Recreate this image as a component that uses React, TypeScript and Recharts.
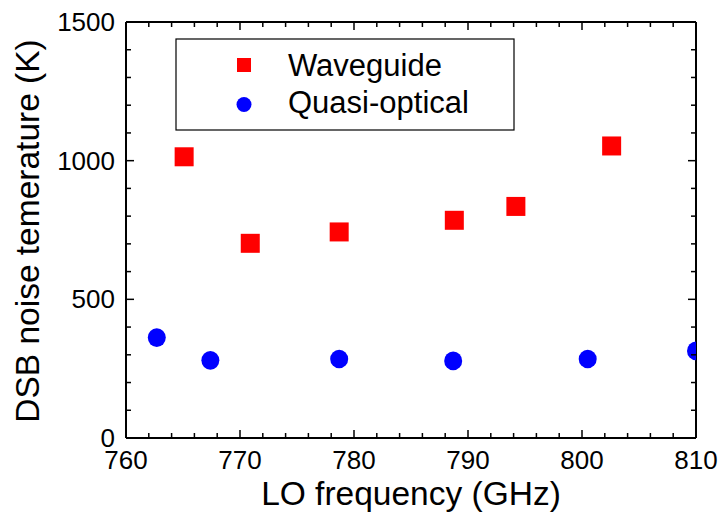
import { ScatterChart, Scatter, XAxis, YAxis } from "recharts";

// LO frequency (GHz) and DSB noise temperature (K)
const freqWG = [765.1, 770.9, 778.7, 788.8, 794.2, 802.6];
const tempWG = [1014, 702, 743, 785, 835, 1053];
const freqQO = [762.7, 767.4, 778.7, 788.7, 800.5, 810];
const tempQO = [362, 280, 285, 278, 285, 314];

const xTicks = [760, 762, 764, 766, 768, 770, 772, 774, 776, 778, 780, 782, 784, 786, 788, 790, 792, 794, 796, 798, 800, 802, 804, 806, 808, 810];
const yTicks = [0, 100, 200, 300, 400, 500, 600, 700, 800, 900, 1000, 1100, 1200, 1300, 1400, 1500];

const waveguide = freqWG.map((f, i) => ({ f, t: tempWG[i] }));
const quasi = freqQO.map((f, i) => ({ f, t: tempQO[i] }));

const W = 718;
const H = 519;
const LEFT = 126;
const RIGHT = 696;
const TOP = 22;
const BOTTOM = 438;
const FONT = '"Liberation Sans", Arial, sans-serif';

function XTick(props: any) {
  const { x, payload, side } = props;
  const v = payload.value;
  const major = v % 10 === 0;
  const len = major ? 8 : 5;
  if (side === "top") {
    return <line x1={x} x2={x} y1={TOP} y2={TOP + len} stroke="#000" strokeWidth={1.5} />;
  }
  return (
    <g>
      <line x1={x} x2={x} y1={BOTTOM} y2={BOTTOM - len} stroke="#000" strokeWidth={1.5} />
      {major && (
        <text x={x} y={BOTTOM + 31} textAnchor="middle" fontSize={26} fontFamily={FONT} fill="#000">
          {v}
        </text>
      )}
    </g>
  );
}

function YTick(props: any) {
  const { y, payload, side } = props;
  const v = payload.value;
  const major = v % 500 === 0;
  const len = major ? 8 : 5;
  if (side === "right") {
    return <line x1={RIGHT} x2={RIGHT - len} y1={y} y2={y} stroke="#000" strokeWidth={1.5} />;
  }
  return (
    <g>
      <line x1={LEFT} x2={LEFT + len} y1={y} y2={y} stroke="#000" strokeWidth={1.5} />
      {major && (
        <text x={115} y={y + 9} textAnchor="end" fontSize={26} fontFamily={FONT} fill="#000">
          {v}
        </text>
      )}
    </g>
  );
}

function Square(props: any) {
  const { cx, cy } = props;
  return <rect x={cx - 9.5} y={cy - 9.5} width={19} height={19} fill="#ff0000" />;
}

function Dot(props: any) {
  const { cx, cy } = props;
  return <ellipse cx={cx} cy={cy} rx={9} ry={9.3} fill="#0000ff" />;
}

function LegendBox() {
  return (
    <svg
      width={340}
      height={93}
      style={{ position: "absolute", left: 175, top: 38 }}
    >
      <rect x={1} y={1} width={338} height={91} fill="#fff" stroke="#000" strokeWidth={1.2} />
      <rect x={62} y={20} width={14} height={14} fill="#ff0000" />
      <text x={113} y={38} fontSize={31} fontFamily={FONT} fill="#000">
        Waveguide
      </text>
      <circle cx={69} cy={66.5} r={7.5} fill="#0000ff" />
      <text x={113} y={75} fontSize={31} fontFamily={FONT} fill="#000">
        Quasi-optical
      </text>
    </svg>
  );
}

export default function App() {
  return (
    <div style={{ position: "absolute", left: 0, top: 0, width: W, height: H, background: "#fff" }}>
      <ScatterChart width={W} height={H} margin={{ top: 0, right: 0, bottom: 0, left: 0 }}>
        <XAxis
          xAxisId="bottom"
          type="number"
          dataKey="f"
          orientation="bottom"
          domain={[760, 810]}
          ticks={xTicks}
          allowDataOverflow
          height={81}
          interval={0}
          axisLine={{ stroke: "#000", strokeWidth: 2 }}
          tickLine={false}
          tick={<XTick side="bottom" />}
          label={{
            content: () => (
              <text x={(LEFT + RIGHT) / 2} y={505} textAnchor="middle" fontSize={33.5} fontFamily={FONT} fill="#000">
                LO frequency (GHz)
              </text>
            ),
          }}
        />
        <XAxis
          xAxisId="top"
          type="number"
          dataKey="f"
          orientation="top"
          domain={[760, 810]}
          ticks={xTicks}
          allowDataOverflow
          height={22}
          interval={0}
          axisLine={{ stroke: "#000", strokeWidth: 2 }}
          tickLine={false}
          tick={<XTick side="top" />}
        />
        <YAxis
          yAxisId="left"
          type="number"
          dataKey="t"
          orientation="left"
          domain={[0, 1500]}
          ticks={yTicks}
          allowDataOverflow
          width={126}
          interval={0}
          axisLine={{ stroke: "#000", strokeWidth: 2 }}
          tickLine={false}
          tick={<YTick side="left" />}
          label={{
            content: () => (
              <text
                x={39}
                y={231}
                transform="rotate(-90 39 231)"
                textAnchor="middle"
                fontSize={33.5}
                fontFamily={FONT}
                fill="#000"
              >
                DSB noise temerature (K)
              </text>
            ),
          }}
        />
        <YAxis
          yAxisId="right"
          type="number"
          dataKey="t"
          orientation="right"
          domain={[0, 1500]}
          ticks={yTicks}
          allowDataOverflow
          width={22}
          interval={0}
          axisLine={{ stroke: "#000", strokeWidth: 2 }}
          tickLine={false}
          tick={<YTick side="right" />}
        />
        <Scatter
          name="Waveguide"
          data={waveguide}
          xAxisId="bottom"
          yAxisId="left"
          shape={<Square />}
          isAnimationActive={false}
        />
        <Scatter
          name="Quasi-optical"
          data={quasi}
          xAxisId="bottom"
          yAxisId="left"
          shape={<Dot />}
          isAnimationActive={false}
        />
      </ScatterChart>
      <LegendBox />
    </div>
  );
}
